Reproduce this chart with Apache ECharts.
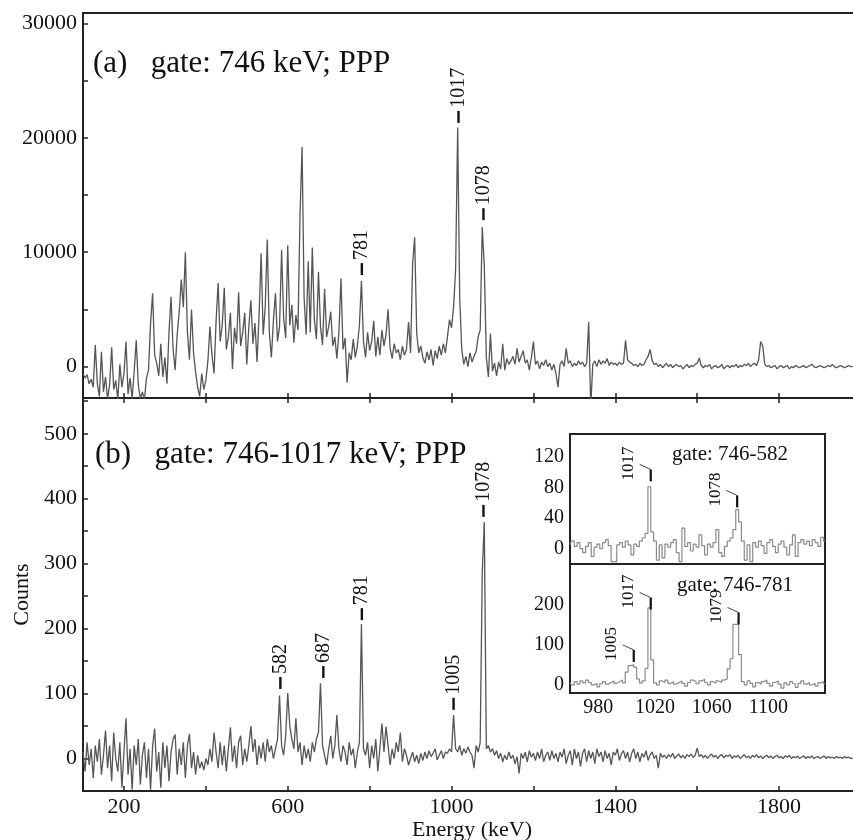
<!DOCTYPE html>
<html>
<head>
<meta charset="utf-8">
<script src="https://cdn.jsdelivr.net/npm/echarts@6/dist/echarts.min.js"></script>
<style>
  html, body { margin: 0; padding: 0; background: #fff; }
  #main { width: 853px; height: 840px; }
</style>
</head>
<body>
<div id="main"></div>
<script>
// spectra: counts per 5 keV bin starting at 100 keV (one row = 100 keV)
var mainStart = 100, mainStep = 5;
var countsA = [
  -600, -1000, -700, -1500, -1100, -1800, 1900, -1500, -2600, 1300, -2200, -900, -2800, -1600, 1700, -2000, -1200, -2900, 200, -1800,
  -600, 2200, -2400, -1000, -2800, -400, 2300, -1600, -2800, -2200, -2900, -1000, -300, 3800, 6400, 1000, 300, -800, 2000, -900,
  800, -1500, 3000, 6100, 1500, -300, 2800, 4800, 7600, 5200, 10000, 3000, 600, 5000, 1200, -500, -1800, -2600, -600, -2000,
  -1200, 500, 3500, 1000, -600, 4000, 7300, 2200, 3600, 6900, 1500, 2600, 4700, -200, 3400, 2000, 6500, 1800, 3000, 4700,
  200, 3500, 5800, 2000, 3800, 400, 4500, 9900, 2800, 5200, 11100, 3000, 800, 4000, 6400, 2200, 3500, 10200, 4200, 2500,
  10600, 3600, 5400, 2100, 4500, 3200, 13300, 19200, 6000, 2800, 9200, 3000, 10400, 4100, 2400, 8300, 3500, 1900, 6800, 2600,
  3500, 4800, 1800, 2600, 700, 3000, 7700, 1500, 2500, -1400, 1200, 600, 2400, 800, 1800, 3600, 7500, 2200, 800, 3000,
  1400, 2200, 4000, 900, 2600, 1000, 3200, 1800, 2800, 5000, 1600, 700, 2000, 1200, 1500, 600, 1800, 1000, 1500, 3900,
  1200, 9000, 11300, 2900, 1200, 1800, 800, 300, 1300, 600, 1500, 100, 1400, 700, 1800, 1000, 2000, 1200, 2600, 4100,
  3400, 5200, 8500, 20900, 6000, 1500, 200, 900, 0, 1200, 400, 900, 1300, 2600, 3200, 12200, 8800, 800, -900, 2900,
  -400, 300, -800, 400, -200, 2000, -300, 700, 200, 500, 900, 200, 1600, 400, 900, 1400, 300, 600, -300, 800,
  2200, 200, 500, -200, 400, 100, 600, 0, 300, -300, 200, -600, -1800, 200, 500, 0, 1600, 300, 500, 0,
  300, 100, 500, 200, 400, 0, 300, 3900, -3500, 200, 500, 0, 600, 200, 500, 300, 700, 100, 400, 200,
  300, 100, 400, 200, 300, 2300, 600, 400, 300, 100, 200, 0, 300, 100, 200, 600, 900, 1500, 500, 200,
  300, 0, 200, -100, 100, 300, 0, 200, -100, 100, 200, 0, 100, -200, 0, 200, -100, 100, 0, 200,
  300, 750, 100, -100, 100, 0, 200, -200, 0, 100, -100, 0, 200, -200, 0, 100, -100, 100, 0, 200,
  -100, 100, 0, 200, 100, 300, 0, 200, 300, 100, 600, 2200, 1800, 200, 0, 100, -100, 0, 100, -200,
  0, 100, -100, 0, 100, -200, 0, -100, 100, 0, -100, 0, 100, -100, 0, 100, 200, 0, -100, 0,
  100, 0, -100, 0, 100, 0, 200, 0, -100, 0, 100, 0, -100, 0, 100, 0, 0
];
var countsB = [
  10, -20, 25, -10, 15, -30, 20, -5, 30, -25, 5, 43, -15, 20, -35, 40, 0, -20, 25, -45,
  10, 62, -25, 15, -48, 20, -10, 30, -40, 5, 25, -30, 15, -48, 20, 46, -20, 10, -45, 25,
  -15, 20, -35, 10, 30, 37, -25, 15, -10, 25, -30, 20, 38, -15, 10, -25, 5, -15, -5, -18,
  0, -10, 15, -5, 40, 10, -15, 25, -10, 20, -20, 15, 48, -5, 20, -15, 25, 35, -10, 15,
  -5, 20, 50, 10, 30, -10, 20, 0, 25, -5, 30, 10, 20, 0, 15, 30, 97, 20, 5, 35,
  101, 50, 30, 15, 62, 10, 25, -10, 20, 0, 15, -5, 25, 10, 30, 40, 116, 20, 5, -10,
  15, 35, 0, 20, 67, 15, -5, 20, 10, -10, 25, 5, 15, -15, 10, 25, 207, 15, 5, 25,
  -15, 20, 0, 30, -20, 15, 54, 10, 49, 20, -10, 15, 0, 25, 10, 40, -5, 15, 5, -10,
  0, 10, -5, 5, -8, 8, -3, 10, 0, 12, 3, 8, 15, -2, 5, 12, 0, 10, 8, 15,
  10, 67, 15, 10, 20, 5, 15, 8, 18, 10, 5, -15, 20, 10, 25, 285, 364, 15, 20, 10,
  15, 5, 12, 0, 8, -5, 5, -2, 10, 0, 5, -8, 3, -23, 8, 0, 10, -5, 12, 2,
  8, -3, 10, 0, 15, -5, 5, 10, -3, 12, 0, 8, -5, 10, 2, 15, -8, 5, 12, -10,
  15, 0, 10, -12, 8, 15, -5, 12, 0, 10, -8, 15, 3, 10, -5, 12, 0, 8, -10, 10,
  5, 15, -3, 8, 12, 0, 10, -5, 8, 15, 0, 10, -5, 8, 2, 12, -3, 6, 10, 0,
  5, -15, 8, 2, 5, 0, 6, 2, 8, 0, 4, 7, 1, 5, 0, 6, 3, 7, 2, 5,
  16, 3, 6, 1, 5, 0, 4, 7, 2, 5, 0, 4, 6, 1, 5, 3, 6, 0, 4, 2,
  5, 0, 3, 6, 1, 4, 0, 5, 2, 6, 1, 4, 0, 3, 5, 1, 4, 0, 3, 5,
  1, 3, 0, 4, 2, 5, 0, 3, 1, 4, 0, 2, 4, 0, 3, 1, 4, 0, 2, 3,
  0, 2, 4, 0, 3, 1, 2, 0, 3, 1, 2, 0, 3, 1, 2, 0, 1
];

// inset spectra: 2 keV bins from 960 keV (one row = 20 keV)
var insetStart = 960, insetStep = 2;
var counts582 = [
  5, 10, 3, 8, 0, -5, 3, 8, -10, 2,
  6, 0, 8, 12, 4, -17, -17, 5, 8, 2,
  10, 5, -8, 6, 3, 10, 14, 20, 81, 22,
  10, -15, 5, -12, 6, 2, 8, 12, -5, -17,
  27, 3, 8, -3, 6, 2, 18, 4, -8, 6,
  2, 8, 25, -5, -10, 3, 10, 14, 25, 51,
  35, 10, -15, 5, -17, 8, 2, 10, 4, -6,
  8, 12, 3, -5, 6, 10, 2, -8, 5, 18,
  -10, 8, 12, 6, 10, 4, 12, 8, 3, 15,
  10
];
var counts781 = [
  5, 0, 8, 2, 10, 5, 12, 6, 0, 4,
  -5, 3, 8, 2, 6, 10, 4, 8, 12, 5,
  32, 48, 50, 44, 15, 5, 10, 41, 191, 62,
  5, 0, 10, 6, 12, 4, 8, 2, 6, 10,
  4, -3, 6, 12, 8, 3, 10, 14, 6, 0,
  8, 4, 10, 6, 12, 15, 40, 65, 150, 150,
  75, 8, 0, 10, 4, -5, 6, 2, 8, 12,
  4, -3, 6, 10, 2, -8, 5, 0, 8, 3,
  -6, 4, 10, 2, 6, 0, 4, -3, 5, 8,
  3
];

// peak labels: energy, height of the marker, text
var peaksA = [781, 1017, 1078];
var peaksAY = [8000, 21300, 12800];
var peaksAText = ['781', '1017', '1078'];
var peaksB = [582, 687, 781, 1005, 1078];
var peaksBY = [107, 124, 213, 75, 372];
var peaksBText = ['582', '687', '781', '1005', '1078'];
var peaks582 = [1017, 1078];
var peaks582Y = [88, 54];
var peaks582Text = ['1017', '1078'];
var peaks781 = [1005, 1017, 1079];
var peaks781Y = [57, 187, 150];
var peaks781Text = ['1005', '1017', '1079'];

// ticks and tick labels
var energyTicks = [200, 400, 600, 800, 1000, 1200, 1400, 1600, 1800];
var energyLabels = [200, 600, 1000, 1400, 1800];
var aTicks = [0, 5000, 10000, 15000, 20000, 25000, 30000];
var aLabels = [0, 10000, 20000, 30000];
var bTicks = [0, 50, 100, 150, 200, 250, 300, 350, 400, 450, 500, 550];
var bLabels = [0, 100, 200, 300, 400, 500];
var insetETicks = [980, 1000, 1020, 1040, 1060, 1080, 1100, 1120];
var insetELabels = [980, 1020, 1060, 1100];
var t582Ticks = [0, 20, 40, 60, 80, 100, 120, 140];
var t582Labels = [0, 40, 80, 120];
var t781Ticks = [0, 50, 100, 150, 200, 250];
var t781Labels = [0, 100, 200];

var FONT = 'Liberation Serif';
var INK = '#111';

function bins(start, step, arr) {
    return arr.map(function (v, i) { return [start + i * step, v]; });
}
function marks(xs, ys) {
    return xs.map(function (x, i) { return [x, ys[i]]; });
}

function mainMark(texts) {
    return function (params, api) {
        var p = api.coord([api.value(0), api.value(1)]);
        return {
            type: 'group',
            children: [
                { type: 'rect', shape: { x: p[0] - 1.2, y: p[1] - 12, width: 2.4, height: 12 }, style: { fill: INK } },
                {
                    type: 'text', x: p[0], y: p[1] - 15, rotation: Math.PI / 2,
                    style: { text: texts[params.dataIndex], font: '20px "' + FONT + '"', fill: INK, align: 'left', verticalAlign: 'middle' }
                }
            ]
        };
    };
}

function insetMark(texts) {
    return function (params, api) {
        var p = api.coord([api.value(0), api.value(1)]);
        return {
            type: 'group',
            children: [
                { type: 'rect', shape: { x: p[0] - 1.1, y: p[1] - 12, width: 2.2, height: 12 }, style: { fill: INK } },
                { type: 'line', shape: { x1: p[0], y1: p[1] - 12, x2: p[0] - 11, y2: p[1] - 17 }, style: { stroke: '#444', lineWidth: 1 } },
                {
                    type: 'text', x: p[0] - 22, y: p[1] - 1, rotation: Math.PI / 2,
                    style: { text: texts[params.dataIndex], font: '17px "' + FONT + '"', fill: INK, align: 'left', verticalAlign: 'middle' }
                }
            ]
        };
    };
}

function xAx(grid, min, max, ticks, labels, pos, fontSize) {
    return {
        type: 'value', gridIndex: grid, min: min, max: max, position: pos || 'bottom',
        axisLine: { show: false, onZero: false },
        splitLine: { show: false },
        axisTick: { inside: true, length: 5, customValues: ticks, lineStyle: { color: '#222', width: 1.5 } },
        axisLabel: labels ? {
            customValues: labels, fontFamily: FONT, fontSize: fontSize, color: INK, margin: 5,
            formatter: function (v) { return String(v); }
        } : { show: false }
    };
}

function yAx(grid, min, max, ticks, labels, fontSize) {
    return {
        type: 'value', gridIndex: grid, min: min, max: max,
        axisLine: { show: false, onZero: false },
        splitLine: { show: false },
        axisTick: { inside: true, length: 5, customValues: ticks, lineStyle: { color: '#222', width: 1.5 } },
        axisLabel: {
            customValues: labels, fontFamily: FONT, fontSize: fontSize, color: INK, margin: 6,
            formatter: function (v) { return String(v); }
        }
    };
}

var frame = { show: true, borderColor: '#222', borderWidth: 2, backgroundColor: '#fff', outerBoundsMode: 'none', containLabel: false };

var myChart = echarts.init(document.getElementById('main'));

var xAxes = [
    xAx(0, 100, 2000, energyTicks, null),
    xAx(1, 100, 2000, energyTicks, energyLabels, 'bottom', 22),
    xAx(1, 100, 2000, energyTicks, null, 'top'),
    xAx(2, 960, 1140, insetETicks, null),
    xAx(3, 960, 1140, insetETicks, insetELabels, 'bottom', 20),
    xAx(3, 960, 1140, insetETicks, null, 'top')
];
xAxes[1].name = 'Energy (keV)';
xAxes[1].nameLocation = 'middle';
xAxes[1].nameGap = 27;
xAxes[1].nameTextStyle = { fontFamily: FONT, fontSize: 22, color: INK };

var yAxes = [
    yAx(0, -2740, 30900, aTicks, aLabels, 22),
    yAx(1, -50, 555, bTicks, bLabels, 22),
    yAx(2, -20, 150, t582Ticks, t582Labels, 20),
    yAx(3, -20, 300, t781Ticks, t781Labels, 20)
];
yAxes[1].name = 'Counts';
yAxes[1].nameLocation = 'middle';
yAxes[1].nameRotate = 90;
yAxes[1].nameGap = 50;
yAxes[1].nameTextStyle = { fontFamily: FONT, fontSize: 22, color: INK };

option = {
    animation: false,
    backgroundColor: '#fff',
    title: [
        { text: '(a)   gate: 746 keV; PPP', left: 88, top: 43, textStyle: { fontFamily: FONT, fontSize: 31, fontWeight: 'normal', color: INK } },
        { text: '(b)   gate: 746-1017 keV; PPP', left: 90, top: 434, textStyle: { fontFamily: FONT, fontSize: 31, fontWeight: 'normal', color: INK } },
        { text: 'gate: 746-582', left: 667, top: 439, textStyle: { fontFamily: FONT, fontSize: 21, fontWeight: 'normal', color: INK } },
        { text: 'gate: 746-781', left: 672, top: 570, textStyle: { fontFamily: FONT, fontSize: 21, fontWeight: 'normal', color: INK } }
    ],
    grid: [
        Object.assign({ left: 83, top: 13, width: 778, height: 385 }, frame),
        Object.assign({ left: 83, top: 398, width: 778, height: 393 }, frame),
        Object.assign({ left: 570, top: 434, width: 255, height: 130, z: 5 }, frame),
        Object.assign({ left: 570, top: 564, width: 255, height: 129, z: 5 }, frame)
    ],
    xAxis: xAxes,
    yAxis: yAxes,
    series: [
        {
            name: 'gate 746', type: 'line', xAxisIndex: 0, yAxisIndex: 0,
            data: bins(mainStart, mainStep, countsA),
            showSymbol: false, lineStyle: { color: '#555', width: 1.3 }
        },
        {
            name: 'gate 746-1017', type: 'line', xAxisIndex: 1, yAxisIndex: 1,
            data: bins(mainStart, mainStep, countsB),
            showSymbol: false, lineStyle: { color: '#555', width: 1.3 }
        },
        {
            name: 'gate 746-582', type: 'line', xAxisIndex: 3, yAxisIndex: 2, z: 6,
            data: bins(insetStart, insetStep, counts582), step: 'middle',
            showSymbol: false, lineStyle: { color: '#8a8a8a', width: 1.2 }
        },
        {
            name: 'gate 746-781', type: 'line', xAxisIndex: 4, yAxisIndex: 3, z: 6,
            data: bins(insetStart, insetStep, counts781), step: 'middle',
            showSymbol: false, lineStyle: { color: '#8a8a8a', width: 1.2 }
        },
        { type: 'custom', xAxisIndex: 0, yAxisIndex: 0, data: marks(peaksA, peaksAY), renderItem: mainMark(peaksAText), silent: true, z: 8, clip: false },
        { type: 'custom', xAxisIndex: 1, yAxisIndex: 1, data: marks(peaksB, peaksBY), renderItem: mainMark(peaksBText), silent: true, z: 8, clip: false },
        { type: 'custom', xAxisIndex: 3, yAxisIndex: 2, data: marks(peaks582, peaks582Y), renderItem: insetMark(peaks582Text), silent: true, z: 8, clip: false },
        { type: 'custom', xAxisIndex: 4, yAxisIndex: 3, data: marks(peaks781, peaks781Y), renderItem: insetMark(peaks781Text), silent: true, z: 8, clip: false }
    ]
};
myChart.setOption(option);
</script>
</body>
</html>
